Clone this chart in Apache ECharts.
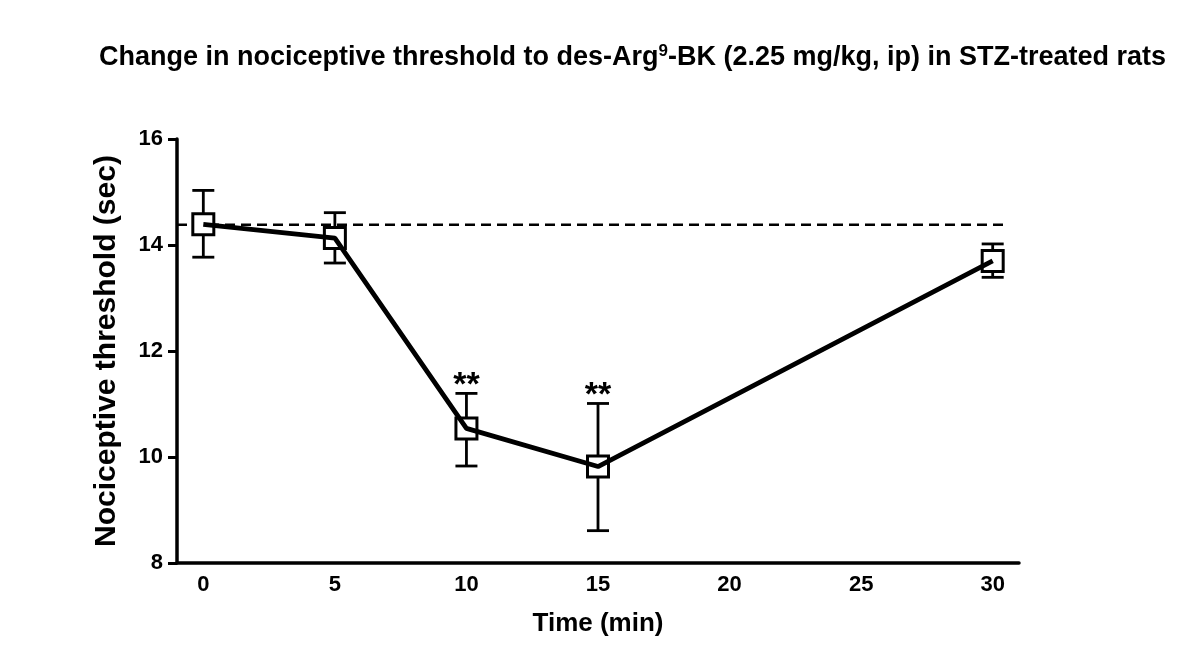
<!DOCTYPE html>
<html>
<head>
<meta charset="utf-8">
<script src="https://cdn.jsdelivr.net/npm/echarts@6/dist/echarts.min.js"></script>
<style>html,body{margin:0;padding:0;background:#fff;}#c{width:1200px;height:662px;}</style>
</head>
<body>
<div id="c"></div>
<script>
const timeLabels = ['0', '5', '10', '15', '20', '25', '30'];
const xIndex = [0, 1, 2, 3, 6];
const means = [14.39, 14.13, 10.54, 9.82, 13.70];
const errLow = [13.77, 13.66, 9.83, 8.61, 13.39];
const errHigh = [15.03, 14.61, 11.20, 11.01, 14.02];
const sigLabels = ['', '', '**', '**', ''];
const baseline = 14.38;

const FONT = '"Liberation Sans", Arial, sans-serif';
const chart = echarts.init(document.getElementById('c'), null, {renderer: 'canvas'});

const errData = xIndex.map((x, i) => [x, errLow[i], errHigh[i]]);
const ptData = xIndex.map((x, i) => [x, means[i]]);
const sigData = xIndex.map((x, i) => ({value: [x, errHigh[i]], sig: sigLabels[i]})).filter(d => d.sig);

chart.setOption({
  animation: false,
  backgroundColor: '#fff',
  title: {
    text: 'Change in nociceptive threshold to des-Arg{sup|9}-BK (2.25 mg/kg, ip) in STZ-treated rats',
    left: 94,
    top: 38,
    textStyle: {
      fontFamily: FONT, fontSize: 27, fontWeight: 'bold', color: '#000',
      rich: {sup: {fontFamily: FONT, fontSize: 17, fontWeight: 'bold', color: '#000', verticalAlign: 'top', padding: [0, 0, 12, 0]}}
    }
  },
  grid: {left: 177, right: 181, top: 139, bottom: 99, containLabel: false},
  xAxis: {
    type: 'value', min: -0.2, max: 6.2,
    name: 'Time (min)', nameLocation: 'middle', nameGap: 48,
    nameTextStyle: {fontFamily: FONT, fontSize: 26, fontWeight: 'bold', color: '#000'},
    axisLine: {onZero: false, lineStyle: {color: '#000', width: 3.5}},
    axisTick: {show: false},
    splitLine: {show: false},
    axisLabel: {
      customValues: [0, 1, 2, 3, 4, 5, 6],
      formatter: v => timeLabels[Math.round(v)],
      fontFamily: FONT, fontSize: 22, fontWeight: 'bold', color: '#000', margin: 11
    }
  },
  yAxis: {
    type: 'value', min: 8, max: 16, interval: 2,
    name: 'Nociceptive threshold (sec)', nameLocation: 'middle', nameGap: 55,
    nameTextStyle: {fontFamily: FONT, fontSize: 30, fontWeight: 'bold', color: '#000'},
    axisLine: {show: true, onZero: false, lineStyle: {color: '#000', width: 3.5}},
    axisTick: {show: true, inside: false, length: 9, lineStyle: {color: '#000', width: 3}},
    splitLine: {show: false},
    axisLabel: {fontFamily: FONT, fontSize: 22, fontWeight: 'bold', color: '#000', margin: 14}
  },
  series: [
    {
      type: 'line', name: 'baseline',
      data: [[-0.2, baseline], [6.12, baseline]],
      symbol: 'none', silent: true,
      lineStyle: {color: '#000', width: 2.5, type: [10, 6]},
      z: 1
    },
    {
      type: 'custom', name: 'err',
      data: errData,
      renderItem: function (params, api) {
        const x = api.value(0);
        const lo = api.coord([x, api.value(1)]);
        const hi = api.coord([x, api.value(2)]);
        const hw = 11;
        const st = {stroke: '#000', lineWidth: 2.8};
        return {
          type: 'group',
          children: [
            {type: 'line', shape: {x1: lo[0], y1: lo[1], x2: hi[0], y2: hi[1]}, style: st},
            {type: 'line', shape: {x1: lo[0] - hw, y1: lo[1], x2: lo[0] + hw, y2: lo[1]}, style: st},
            {type: 'line', shape: {x1: hi[0] - hw, y1: hi[1], x2: hi[0] + hw, y2: hi[1]}, style: st}
          ]
        };
      },
      z: 2
    },
    {
      type: 'scatter', name: 'pts',
      data: ptData,
      symbol: 'rect', symbolSize: 21,
      itemStyle: {color: '#fff', borderColor: '#000', borderWidth: 3, opacity: 1},
      z: 3
    },
    {
      type: 'line', name: 'mean',
      data: ptData,
      symbol: 'none',
      lineStyle: {color: '#000', width: 4.8},
      z: 4
    },
    {
      type: 'scatter', name: 'sig',
      data: sigData,
      symbolSize: 0,
      itemStyle: {opacity: 1},
      label: {
        show: true, position: 'top', distance: -9,
        formatter: p => p.data.sig,
        fontFamily: FONT, fontSize: 34, color: '#000', fontWeight: 'bold'
      },
      z: 5
    }
  ]
});
</script>
</body>
</html>
